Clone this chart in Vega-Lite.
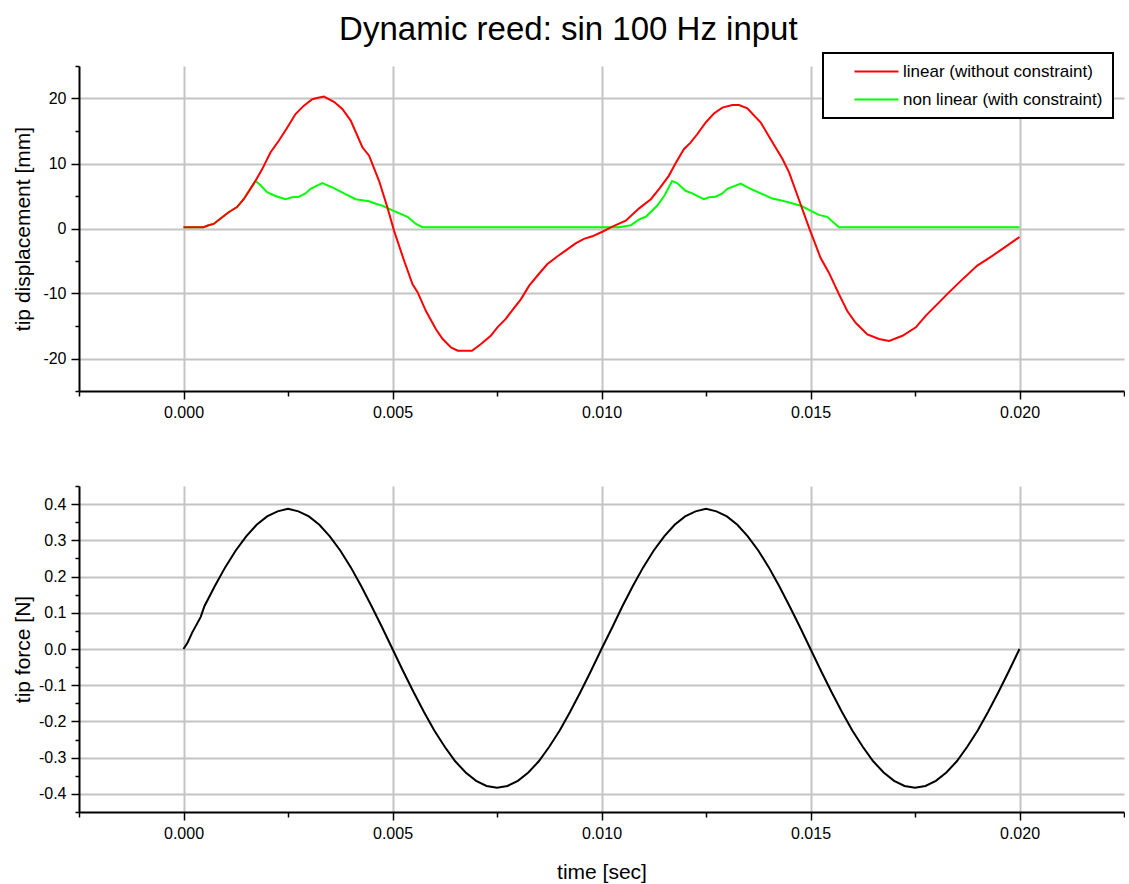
{
  "$schema": "https://vega.github.io/schema/vega-lite/v6.json",
  "padding": {"left": 12, "top": 14, "right": 0, "bottom": 5},
  "title": {"text": "Dynamic reed: sin 100 Hz input", "fontSize": 33, "fontWeight": "normal", "font": "Liberation Sans", "color": "black", "anchor": "middle", "offset": 5},
  "spacing": 58,
  "datasets": {
    "disp": [
      {"t": 0, "v": 0.2, "series": "linear (without constraint)"},
      {"t": 0.00048, "v": 0.2, "series": "linear (without constraint)"},
      {"t": 0.0006, "v": 0.5, "series": "linear (without constraint)"},
      {"t": 0.00072, "v": 0.7, "series": "linear (without constraint)"},
      {"t": 0.00088, "v": 1.5, "series": "linear (without constraint)"},
      {"t": 0.00108, "v": 2.5, "series": "linear (without constraint)"},
      {"t": 0.00128, "v": 3.3, "series": "linear (without constraint)"},
      {"t": 0.00144, "v": 4.5, "series": "linear (without constraint)"},
      {"t": 0.0016, "v": 6.1, "series": "linear (without constraint)"},
      {"t": 0.00172, "v": 7.3, "series": "linear (without constraint)"},
      {"t": 0.00188, "v": 9.1, "series": "linear (without constraint)"},
      {"t": 0.00208, "v": 11.7, "series": "linear (without constraint)"},
      {"t": 0.00228, "v": 13.5, "series": "linear (without constraint)"},
      {"t": 0.00248, "v": 15.5, "series": "linear (without constraint)"},
      {"t": 0.00268, "v": 17.6, "series": "linear (without constraint)"},
      {"t": 0.00288, "v": 18.9, "series": "linear (without constraint)"},
      {"t": 0.00308, "v": 19.9, "series": "linear (without constraint)"},
      {"t": 0.00322, "v": 20.1, "series": "linear (without constraint)"},
      {"t": 0.00336, "v": 20.3, "series": "linear (without constraint)"},
      {"t": 0.0036, "v": 19.5, "series": "linear (without constraint)"},
      {"t": 0.0038, "v": 18.4, "series": "linear (without constraint)"},
      {"t": 0.004, "v": 16.6, "series": "linear (without constraint)"},
      {"t": 0.00428, "v": 12.5, "series": "linear (without constraint)"},
      {"t": 0.00444, "v": 11.2, "series": "linear (without constraint)"},
      {"t": 0.00468, "v": 7.3, "series": "linear (without constraint)"},
      {"t": 0.00488, "v": 3.2, "series": "linear (without constraint)"},
      {"t": 0.00504, "v": -0.4, "series": "linear (without constraint)"},
      {"t": 0.00528, "v": -5.0, "series": "linear (without constraint)"},
      {"t": 0.00548, "v": -8.6, "series": "linear (without constraint)"},
      {"t": 0.0056, "v": -9.8, "series": "linear (without constraint)"},
      {"t": 0.0058, "v": -12.7, "series": "linear (without constraint)"},
      {"t": 0.00604, "v": -15.5, "series": "linear (without constraint)"},
      {"t": 0.0062, "v": -17.0, "series": "linear (without constraint)"},
      {"t": 0.0064, "v": -18.3, "series": "linear (without constraint)"},
      {"t": 0.00656, "v": -18.8, "series": "linear (without constraint)"},
      {"t": 0.0069, "v": -18.8, "series": "linear (without constraint)"},
      {"t": 0.00711, "v": -17.8, "series": "linear (without constraint)"},
      {"t": 0.00735, "v": -16.5, "series": "linear (without constraint)"},
      {"t": 0.00751, "v": -15.2, "series": "linear (without constraint)"},
      {"t": 0.00771, "v": -13.9, "series": "linear (without constraint)"},
      {"t": 0.00791, "v": -12.2, "series": "linear (without constraint)"},
      {"t": 0.00807, "v": -10.9, "series": "linear (without constraint)"},
      {"t": 0.00827, "v": -8.8, "series": "linear (without constraint)"},
      {"t": 0.0085, "v": -7.0, "series": "linear (without constraint)"},
      {"t": 0.0087, "v": -5.5, "series": "linear (without constraint)"},
      {"t": 0.00894, "v": -4.3, "series": "linear (without constraint)"},
      {"t": 0.00914, "v": -3.4, "series": "linear (without constraint)"},
      {"t": 0.00938, "v": -2.3, "series": "linear (without constraint)"},
      {"t": 0.00958, "v": -1.6, "series": "linear (without constraint)"},
      {"t": 0.00978, "v": -1.2, "series": "linear (without constraint)"},
      {"t": 0.01002, "v": -0.5, "series": "linear (without constraint)"},
      {"t": 0.01026, "v": 0.3, "series": "linear (without constraint)"},
      {"t": 0.01058, "v": 1.2, "series": "linear (without constraint)"},
      {"t": 0.0109, "v": 3.1, "series": "linear (without constraint)"},
      {"t": 0.01118, "v": 4.5, "series": "linear (without constraint)"},
      {"t": 0.01138, "v": 6.1, "series": "linear (without constraint)"},
      {"t": 0.01161, "v": 8.1, "series": "linear (without constraint)"},
      {"t": 0.01177, "v": 10.0, "series": "linear (without constraint)"},
      {"t": 0.01197, "v": 12.2, "series": "linear (without constraint)"},
      {"t": 0.01213, "v": 13.2, "series": "linear (without constraint)"},
      {"t": 0.01229, "v": 14.5, "series": "linear (without constraint)"},
      {"t": 0.01249, "v": 16.3, "series": "linear (without constraint)"},
      {"t": 0.01269, "v": 17.7, "series": "linear (without constraint)"},
      {"t": 0.01289, "v": 18.6, "series": "linear (without constraint)"},
      {"t": 0.01313, "v": 19.0, "series": "linear (without constraint)"},
      {"t": 0.01329, "v": 19.0, "series": "linear (without constraint)"},
      {"t": 0.01349, "v": 18.5, "series": "linear (without constraint)"},
      {"t": 0.01381, "v": 16.3, "series": "linear (without constraint)"},
      {"t": 0.01405, "v": 13.7, "series": "linear (without constraint)"},
      {"t": 0.01433, "v": 10.7, "series": "linear (without constraint)"},
      {"t": 0.01449, "v": 8.6, "series": "linear (without constraint)"},
      {"t": 0.01472, "v": 4.5, "series": "linear (without constraint)"},
      {"t": 0.01496, "v": 0.2, "series": "linear (without constraint)"},
      {"t": 0.01524, "v": -4.5, "series": "linear (without constraint)"},
      {"t": 0.01544, "v": -6.8, "series": "linear (without constraint)"},
      {"t": 0.01568, "v": -10.1, "series": "linear (without constraint)"},
      {"t": 0.01588, "v": -12.7, "series": "linear (without constraint)"},
      {"t": 0.01608, "v": -14.5, "series": "linear (without constraint)"},
      {"t": 0.01636, "v": -16.3, "series": "linear (without constraint)"},
      {"t": 0.01664, "v": -17.0, "series": "linear (without constraint)"},
      {"t": 0.01688, "v": -17.3, "series": "linear (without constraint)"},
      {"t": 0.0172, "v": -16.5, "series": "linear (without constraint)"},
      {"t": 0.01752, "v": -15.2, "series": "linear (without constraint)"},
      {"t": 0.01776, "v": -13.4, "series": "linear (without constraint)"},
      {"t": 0.01807, "v": -11.4, "series": "linear (without constraint)"},
      {"t": 0.01827, "v": -10.1, "series": "linear (without constraint)"},
      {"t": 0.01859, "v": -8.1, "series": "linear (without constraint)"},
      {"t": 0.01899, "v": -5.7, "series": "linear (without constraint)"},
      {"t": 0.01935, "v": -4.2, "series": "linear (without constraint)"},
      {"t": 0.01967, "v": -2.8, "series": "linear (without constraint)"},
      {"t": 0.02, "v": -1.3, "series": "linear (without constraint)"},
      {"t": 0, "v": 0.2, "series": "non linear (with constraint)"},
      {"t": 0.00048, "v": 0.2, "series": "non linear (with constraint)"},
      {"t": 0.0006, "v": 0.5, "series": "non linear (with constraint)"},
      {"t": 0.00072, "v": 0.7, "series": "non linear (with constraint)"},
      {"t": 0.00088, "v": 1.5, "series": "non linear (with constraint)"},
      {"t": 0.00108, "v": 2.5, "series": "non linear (with constraint)"},
      {"t": 0.00128, "v": 3.3, "series": "non linear (with constraint)"},
      {"t": 0.00144, "v": 4.5, "series": "non linear (with constraint)"},
      {"t": 0.0016, "v": 6.1, "series": "non linear (with constraint)"},
      {"t": 0.00172, "v": 7.3, "series": "non linear (with constraint)"},
      {"t": 0.00184, "v": 6.7, "series": "non linear (with constraint)"},
      {"t": 0.002, "v": 5.6, "series": "non linear (with constraint)"},
      {"t": 0.0022, "v": 5.0, "series": "non linear (with constraint)"},
      {"t": 0.00244, "v": 4.5, "series": "non linear (with constraint)"},
      {"t": 0.0026, "v": 4.8, "series": "non linear (with constraint)"},
      {"t": 0.00276, "v": 4.9, "series": "non linear (with constraint)"},
      {"t": 0.00292, "v": 5.4, "series": "non linear (with constraint)"},
      {"t": 0.00304, "v": 6.1, "series": "non linear (with constraint)"},
      {"t": 0.00332, "v": 7.0, "series": "non linear (with constraint)"},
      {"t": 0.0036, "v": 6.2, "series": "non linear (with constraint)"},
      {"t": 0.00384, "v": 5.4, "series": "non linear (with constraint)"},
      {"t": 0.00412, "v": 4.5, "series": "non linear (with constraint)"},
      {"t": 0.00424, "v": 4.4, "series": "non linear (with constraint)"},
      {"t": 0.00444, "v": 4.2, "series": "non linear (with constraint)"},
      {"t": 0.0046, "v": 3.8, "series": "non linear (with constraint)"},
      {"t": 0.00476, "v": 3.5, "series": "non linear (with constraint)"},
      {"t": 0.005, "v": 2.8, "series": "non linear (with constraint)"},
      {"t": 0.00536, "v": 1.8, "series": "non linear (with constraint)"},
      {"t": 0.00556, "v": 0.7, "series": "non linear (with constraint)"},
      {"t": 0.00572, "v": 0.2, "series": "non linear (with constraint)"},
      {"t": 0.01042, "v": 0.2, "series": "non linear (with constraint)"},
      {"t": 0.0107, "v": 0.5, "series": "non linear (with constraint)"},
      {"t": 0.0109, "v": 1.4, "series": "non linear (with constraint)"},
      {"t": 0.01106, "v": 1.8, "series": "non linear (with constraint)"},
      {"t": 0.01133, "v": 3.5, "series": "non linear (with constraint)"},
      {"t": 0.0115, "v": 5.0, "series": "non linear (with constraint)"},
      {"t": 0.01169, "v": 7.3, "series": "non linear (with constraint)"},
      {"t": 0.01181, "v": 7.0, "series": "non linear (with constraint)"},
      {"t": 0.01201, "v": 5.8, "series": "non linear (with constraint)"},
      {"t": 0.01217, "v": 5.4, "series": "non linear (with constraint)"},
      {"t": 0.01245, "v": 4.5, "series": "non linear (with constraint)"},
      {"t": 0.01257, "v": 4.8, "series": "non linear (with constraint)"},
      {"t": 0.01273, "v": 4.9, "series": "non linear (with constraint)"},
      {"t": 0.01289, "v": 5.4, "series": "non linear (with constraint)"},
      {"t": 0.01301, "v": 6.1, "series": "non linear (with constraint)"},
      {"t": 0.01333, "v": 6.9, "series": "non linear (with constraint)"},
      {"t": 0.01353, "v": 6.2, "series": "non linear (with constraint)"},
      {"t": 0.01409, "v": 4.6, "series": "non linear (with constraint)"},
      {"t": 0.01425, "v": 4.4, "series": "non linear (with constraint)"},
      {"t": 0.01449, "v": 4.0, "series": "non linear (with constraint)"},
      {"t": 0.01477, "v": 3.5, "series": "non linear (with constraint)"},
      {"t": 0.0152, "v": 2.1, "series": "non linear (with constraint)"},
      {"t": 0.0154, "v": 1.8, "series": "non linear (with constraint)"},
      {"t": 0.01568, "v": 0.2, "series": "non linear (with constraint)"},
      {"t": 0.02, "v": 0.2, "series": "non linear (with constraint)"}
    ],
    "force": [
      {"t": 0, "f": 0.0}, {"t": 0.0001, "f": 0.018}, {"t": 0.00021, "f": 0.046}, {"t": 0.00041, "f": 0.088}, {"t": 0.0005, "f": 0.118},
      {"t": 0.00075, "f": 0.174}, {"t": 0.001, "f": 0.226}, {"t": 0.00125, "f": 0.272}, {"t": 0.0015, "f": 0.311},
      {"t": 0.00175, "f": 0.343}, {"t": 0.002, "f": 0.366}, {"t": 0.00225, "f": 0.38}, {"t": 0.0025, "f": 0.387},
      {"t": 0.00275, "f": 0.38}, {"t": 0.003, "f": 0.366}, {"t": 0.00325, "f": 0.343}, {"t": 0.0035, "f": 0.311},
      {"t": 0.00375, "f": 0.272}, {"t": 0.004, "f": 0.226}, {"t": 0.00425, "f": 0.174}, {"t": 0.0045, "f": 0.118},
      {"t": 0.00475, "f": 0.06}, {"t": 0.005, "f": 0.0}, {"t": 0.00525, "f": -0.06}, {"t": 0.0055, "f": -0.118},
      {"t": 0.00575, "f": -0.173}, {"t": 0.006, "f": -0.225}, {"t": 0.00625, "f": -0.27}, {"t": 0.0065, "f": -0.31},
      {"t": 0.00675, "f": -0.341}, {"t": 0.007, "f": -0.364}, {"t": 0.00725, "f": -0.378}, {"t": 0.0075, "f": -0.383},
      {"t": 0.00775, "f": -0.378}, {"t": 0.008, "f": -0.364}, {"t": 0.00825, "f": -0.341}, {"t": 0.0085, "f": -0.31},
      {"t": 0.00875, "f": -0.27}, {"t": 0.009, "f": -0.225}, {"t": 0.00925, "f": -0.173}, {"t": 0.0095, "f": -0.118},
      {"t": 0.00975, "f": -0.06}, {"t": 0.01, "f": 0.0}, {"t": 0.01025, "f": 0.058}, {"t": 0.0105, "f": 0.118},
      {"t": 0.01075, "f": 0.174}, {"t": 0.011, "f": 0.226}, {"t": 0.01125, "f": 0.272}, {"t": 0.0115, "f": 0.311},
      {"t": 0.01175, "f": 0.343}, {"t": 0.012, "f": 0.366}, {"t": 0.01225, "f": 0.38}, {"t": 0.0125, "f": 0.387},
      {"t": 0.01275, "f": 0.38}, {"t": 0.013, "f": 0.366}, {"t": 0.01325, "f": 0.343}, {"t": 0.0135, "f": 0.311},
      {"t": 0.01375, "f": 0.272}, {"t": 0.014, "f": 0.226}, {"t": 0.01425, "f": 0.174}, {"t": 0.0145, "f": 0.118},
      {"t": 0.01475, "f": 0.06}, {"t": 0.015, "f": 0.0}, {"t": 0.01525, "f": -0.06}, {"t": 0.0155, "f": -0.118},
      {"t": 0.01575, "f": -0.173}, {"t": 0.016, "f": -0.225}, {"t": 0.01625, "f": -0.27}, {"t": 0.0165, "f": -0.31},
      {"t": 0.01675, "f": -0.341}, {"t": 0.017, "f": -0.364}, {"t": 0.01725, "f": -0.378}, {"t": 0.0175, "f": -0.383},
      {"t": 0.01775, "f": -0.378}, {"t": 0.018, "f": -0.364}, {"t": 0.01825, "f": -0.341}, {"t": 0.0185, "f": -0.31},
      {"t": 0.01875, "f": -0.27}, {"t": 0.019, "f": -0.225}, {"t": 0.01925, "f": -0.173}, {"t": 0.0195, "f": -0.118},
      {"t": 0.01975, "f": -0.06}, {"t": 0.02, "f": 0.0}
    ]
  },
  "vconcat": [
    {
      "width": 1045,
      "height": 325,
      "data": {"name": "disp"},
      "encoding": {
        "x": {
          "field": "t", "type": "quantitative",
          "scale": {"domain": [-0.0025, 0.0225], "nice": false, "zero": false},
          "axis": {
            "title": null,
            "values": [-0.0025, 0, 0.0025, 0.005, 0.0075, 0.01, 0.0125, 0.015, 0.0175, 0.02, 0.0225],
            "format": ".3f",
            "labelExpr": "abs(round(datum.value/0.0025)%2)==0 ? datum.label : ''",
            "tickSize": {"condition": {"test": "abs(round(datum.value/0.0025)%2)==0", "value": 8}, "value": 5},
            "gridOpacity": {"condition": {"test": "abs(round(datum.value/0.0025)%2)==0", "value": 1}, "value": 0}
          }
        },
        "y": {
          "field": "v", "type": "quantitative",
          "scale": {"domain": [-25, 25], "nice": false, "zero": false},
          "axis": {
            "title": "tip displacement [mm]",
            "values": [-25, -20, -15, -10, -5, 0, 5, 10, 15, 20, 25],
            "labelExpr": "abs(round(datum.value/5)%2)==0 ? replace(datum.label, '\u2212', '-') : ''",
            "tickSize": {"condition": {"test": "abs(round(datum.value/5)%2)==0", "value": 8}, "value": 4},
            "gridOpacity": {"condition": {"test": "abs(round(datum.value/5)%2)==0", "value": 1}, "value": 0},
            "titleX": -56,
            "titleBaseline": "middle"
          }
        },
        "color": {
          "field": "series", "type": "nominal",
          "scale": {"domain": ["linear (without constraint)", "non linear (with constraint)"], "range": ["#ff0000", "#00ff00"]},
          "legend": {
            "title": null,
            "orient": "none",
            "legendX": 744,
            "legendY": -13,
            "symbolType": "M-4,0H4",
            "symbolSize": 121,
            "symbolStrokeWidth": 2,
            "symbolOffset": 35,
            "labelOffset": 18,
            "labelFontSize": 17,
            "labelLimit": 400,
            "labelColor": "black",
            "rowPadding": 10,
            "padding": 10,
            "strokeColor": "black",
            "fillColor": "white"
          }
        }
      },
      "layer": [
        {
          "transform": [{"filter": "datum.series == 'non linear (with constraint)'"}],
          "mark": {"type": "line", "strokeWidth": 2}
        },
        {
          "transform": [{"filter": "datum.series == 'linear (without constraint)'"}],
          "mark": {"type": "line", "strokeWidth": 2}
        }
      ]
    },
    {
      "width": 1045,
      "height": 326,
      "data": {"name": "force"},
      "mark": {"type": "line", "strokeWidth": 2, "color": "black"},
      "encoding": {
        "x": {
          "field": "t", "type": "quantitative",
          "scale": {"domain": [-0.0025, 0.0225], "nice": false, "zero": false},
          "axis": {
            "title": "time [sec]",
            "values": [-0.0025, 0, 0.0025, 0.005, 0.0075, 0.01, 0.0125, 0.015, 0.0175, 0.02, 0.0225],
            "format": ".3f",
            "labelExpr": "abs(round(datum.value/0.0025)%2)==0 ? datum.label : ''",
            "tickSize": {"condition": {"test": "abs(round(datum.value/0.0025)%2)==0", "value": 8}, "value": 5},
            "gridOpacity": {"condition": {"test": "abs(round(datum.value/0.0025)%2)==0", "value": 1}, "value": 0},
            "titlePadding": 20
          }
        },
        "y": {
          "field": "f", "type": "quantitative",
          "scale": {"domain": [-0.45, 0.45], "nice": false, "zero": false},
          "axis": {
            "title": "tip force [N]",
            "values": [-0.45, -0.4, -0.35, -0.3, -0.25, -0.2, -0.15, -0.1, -0.05, 0, 0.05, 0.1, 0.15, 0.2, 0.25, 0.3, 0.35, 0.4, 0.45],
            "format": ".1f",
            "labelExpr": "abs(round(datum.value/0.05)%2)==0 ? replace(datum.label, '\u2212', '-') : ''",
            "tickSize": {"condition": {"test": "abs(round(datum.value/0.05)%2)==0", "value": 8}, "value": 4},
            "gridOpacity": {"condition": {"test": "abs(round(datum.value/0.05)%2)==0", "value": 1}, "value": 0},
            "titleX": -56,
            "titleBaseline": "middle"
          }
        }
      }
    }
  ],
  "config": {
    "font": "Liberation Sans",
    "view": {"stroke": null},
    "axis": {
      "domainColor": "black",
      "domainWidth": 2,
      "tickColor": "black",
      "tickWidth": 1.5,
      "labelFont": "Liberation Sans",
      "labelFontSize": 16,
      "labelColor": "black",
      "labelPadding": 5,
      "labelOverlap": false,
      "labelFlush": false,
      "titleFont": "Liberation Sans",
      "titleFontSize": 21,
      "titleFontWeight": "normal",
      "titleColor": "black",
      "gridColor": "#c4c4c4",
      "gridWidth": 2
    },
    "legend": {"strokeWidth": 2, "labelFont": "Liberation Sans"}
  }
}
